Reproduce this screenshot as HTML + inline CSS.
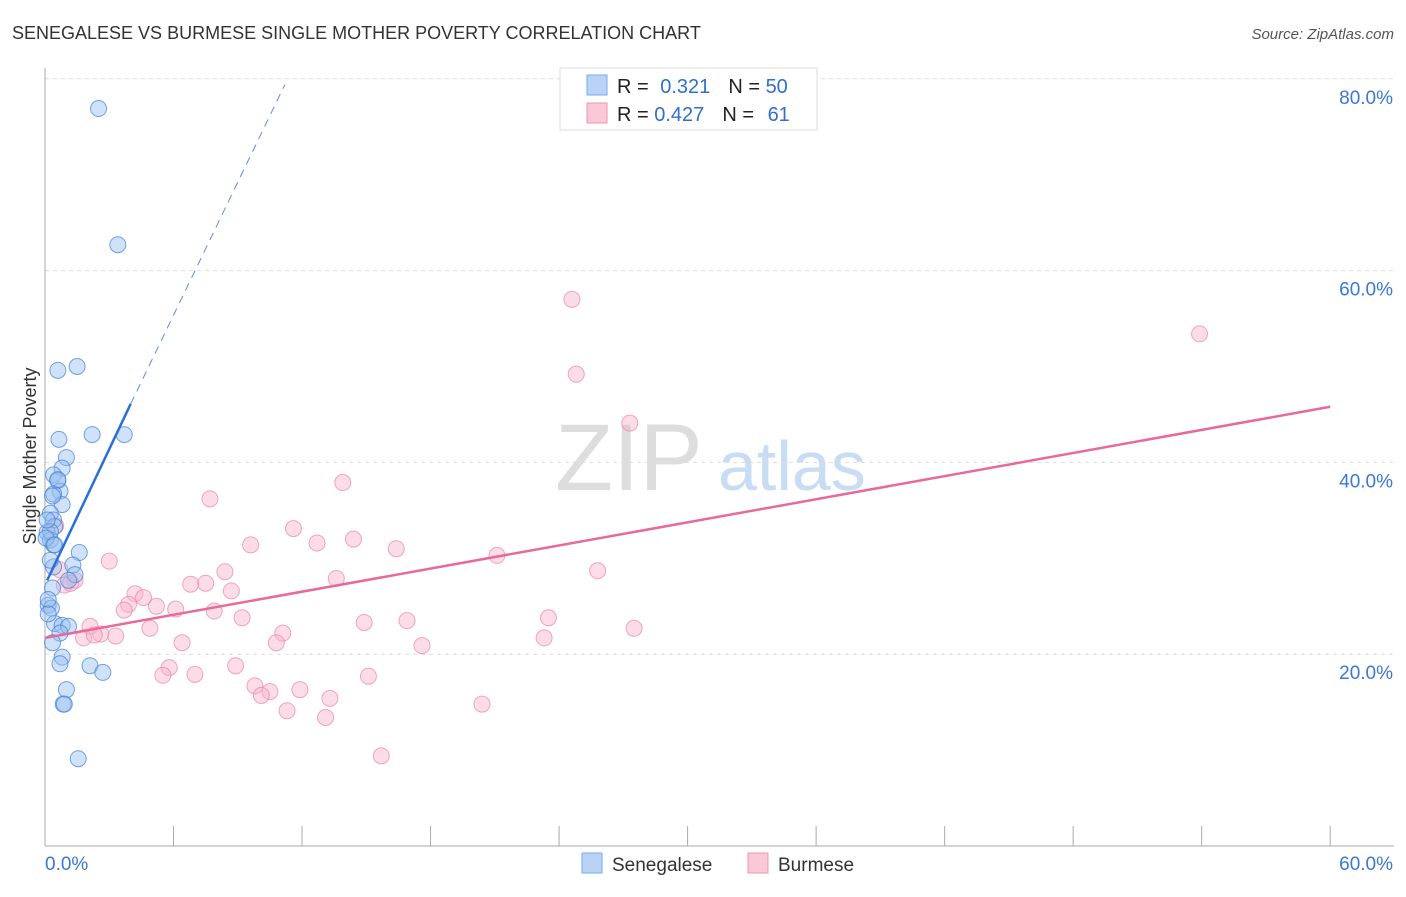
<!DOCTYPE html>
<html><head><meta charset="utf-8"><style>
body{margin:0;background:#fff;font-family:"Liberation Sans",sans-serif;}
svg text{font-family:"Liberation Sans",sans-serif;}
</style></head><body>
<svg id="c" width="1406" height="892" xmlns="http://www.w3.org/2000/svg">
<text x="12" y="39" font-size="18" fill="#333">SENEGALESE VS BURMESE SINGLE MOTHER POVERTY CORRELATION CHART</text>
<text x="1394" y="39" font-size="15" fill="#555" text-anchor="end" font-style="italic">Source: ZipAtlas.com</text>
<text x="36" y="456" font-size="18" fill="#333" text-anchor="middle" transform="rotate(-90 36 456)">Single Mother Poverty</text>
<text x="555" y="490" font-size="95" fill="#ddd" font-family="Liberation Serif">ZIP</text>
<text x="718" y="490" font-size="70" fill="#c8dcf3">atlas</text>
<g id="grid"></g><g id="pts"></g><g id="lines"></g>
<g>
<rect x="560" y="68" width="257" height="62" fill="#fff" stroke="#ddd"/>
<rect x="587" y="75" width="20" height="20" fill="#b8d3f5" stroke="#7aaaea"/>
<rect x="587" y="103" width="20" height="20" fill="#fbc8d8" stroke="#ee95b2"/>
<text x="617" y="93" font-size="20" fill="#222">R = <tspan fill="#2f6fd0" dx="6">0.321</tspan><tspan fill="#222" dx="18">N = </tspan><tspan fill="#2f6fd0">50</tspan></text>
<text x="617" y="121" font-size="20" fill="#222">R = <tspan fill="#2f6fd0">0.427</tspan><tspan fill="#222" dx="18">N = </tspan><tspan fill="#2f6fd0" dx="8">61</tspan></text>
</g>
<g>
<rect x="582" y="853" width="20" height="20" fill="#b8d3f5" stroke="#7aaaea"/>
<text x="612" y="871" font-size="19" fill="#333">Senegalese</text>
<rect x="748" y="853" width="20" height="20" fill="#fbc8d8" stroke="#ee95b2"/>
<text x="778" y="871" font-size="19" fill="#333">Burmese</text>
</g>
</svg>
<script>
const yTicks=[20,40,60,80];
const yTickLabels=["20.0%","40.0%","60.0%","80.0%"];
const xTickLabels=["0.0%","60.0%"];
const senX=[2.5,3.4,0.6,1.5,0.65,2.2,3.7,1.0,0.8,0.4,0.6,0.7,0.4,0.8,0.25,0.4,0.45,0.1,0.25,0.4,1.6,0.4,1.3,1.4,1.1,0.35,0.15,0.3,0.45,0.8,1.1,0.7,0.35,0.8,0.7,2.1,2.7,1.0,0.85,0.9,1.55,0.15,0.25,0.05,0.45,0.25,0.6,0.15,0.1,0.35];
const senY=[76.9,62.7,49.6,50.0,42.4,42.9,42.9,40.5,39.4,38.7,38.1,37.0,36.7,35.6,34.7,34.0,33.3,32.7,31.9,31.4,30.6,29.1,29.3,28.3,27.7,26.9,25.1,24.8,23.2,23.0,22.9,22.2,21.2,19.7,19.0,18.8,18.1,16.3,14.8,14.8,9.1,25.7,32.8,32.1,31.4,29.8,38.2,24.2,34.0,36.5];
const burX=[24.6,53.9,24.8,27.3,13.9,7.7,11.6,14.4,9.6,12.7,16.4,21.1,3.0,0.7,1.4,13.6,8.4,7.5,6.8,25.8,0.9,1.2,4.2,4.6,8.7,3.9,5.2,6.1,7.9,3.7,9.2,23.5,16.9,14.9,27.5,4.9,2.1,3.3,2.6,1.8,2.3,11.1,23.3,6.4,10.8,17.6,8.9,5.8,5.5,7.0,9.8,10.5,10.1,11.9,13.3,15.1,11.3,13.1,20.4,15.7,0.5];
const burY=[57.0,53.4,49.2,44.1,37.9,36.2,33.1,32.0,31.4,31.6,31.0,30.3,29.7,28.8,27.7,27.9,28.6,27.4,27.3,28.7,27.2,27.4,26.3,25.9,26.6,25.2,25.0,24.7,24.5,24.6,23.8,23.8,23.5,23.3,22.7,22.7,22.9,21.9,22.1,21.7,22.0,22.2,21.7,21.2,21.2,20.9,18.8,18.6,17.8,17.9,16.7,16.1,15.7,16.3,15.4,17.7,14.1,13.4,14.8,9.4,33.4];
const senLine=[[0.1,27.7],[4.0,46.1]],senDash=[[4.0,46.1],[11.2,79.4]];
const burLine=[[0,21.7],[60,45.8]];
const X=v=>45+v*21.42, Y=v=>846-v*9.59;
const ns="http://www.w3.org/2000/svg";
function mk(p,t,a){const e=document.createElementNS(ns,t);for(const k in a)e.setAttribute(k,a[k]);p.appendChild(e);return e;}
const g=document.getElementById('grid');
yTicks.forEach((t,i)=>{
 const l=mk(g,'line',{x1:45,x2:1394,y1:Y(t),y2:Y(t),stroke:'#ddd','stroke-dasharray':'4,4'});
 
 
 const tx=mk(g,'text',{x:1393,y:Y(t)+25,'font-size':19,fill:'#3a78d4','text-anchor':'end'});tx.textContent=yTickLabels[i];
 
 
});
mk(g,'line',{x1:45,x2:45,y1:68,y2:846,stroke:'#aaa'});
mk(g,'line',{x1:45,x2:1394,y1:846,y2:846,stroke:'#aaa'});
for(let i=0;i<=10;i++){const t=mk(g,'line',{x1:X(i*6),x2:X(i*6),y1:826,y2:846,stroke:'#aaa'});
 
 }
const xl0=mk(g,'text',{x:45,y:870,'font-size':19,fill:'#3a78d4'});xl0.textContent=xTickLabels[0];


const xl1=mk(g,'text',{x:1393,y:870,'font-size':19,fill:'#3a78d4','text-anchor':'end'});xl1.textContent=xTickLabels[1];


const p=document.getElementById('pts');
burX.forEach((x,i)=>{const c=mk(p,'circle',{cx:X(x),cy:Y(burY[i]),r:8,fill:'rgba(248,180,202,0.45)',stroke:'rgba(236,130,165,0.7)','stroke-width':1});
 
 });
senX.forEach((x,i)=>{const c=mk(p,'circle',{cx:X(x),cy:Y(senY[i]),r:8,fill:'rgba(150,190,240,0.45)',stroke:'rgba(60,125,215,0.7)','stroke-width':1});
 
 });
const L=document.getElementById('lines');
const a=mk(L,'line',{x1:X(senLine[0][0]),y1:Y(senLine[0][1]),x2:X(senLine[1][0]),y2:Y(senLine[1][1]),stroke:'#2a6fd6','stroke-width':2.5});


const b=mk(L,'line',{x1:X(senDash[0][0]),y1:Y(senDash[0][1]),x2:X(senDash[1][0]),y2:Y(senDash[1][1]),stroke:'#5a90dd','stroke-width':1,'stroke-dasharray':'8,6'});


const c=mk(L,'line',{x1:X(burLine[0][0]),y1:Y(burLine[0][1]),x2:X(burLine[1][0]),y2:Y(burLine[1][1]),stroke:'#e8699a','stroke-width':2.5});


</script>
</body></html>
